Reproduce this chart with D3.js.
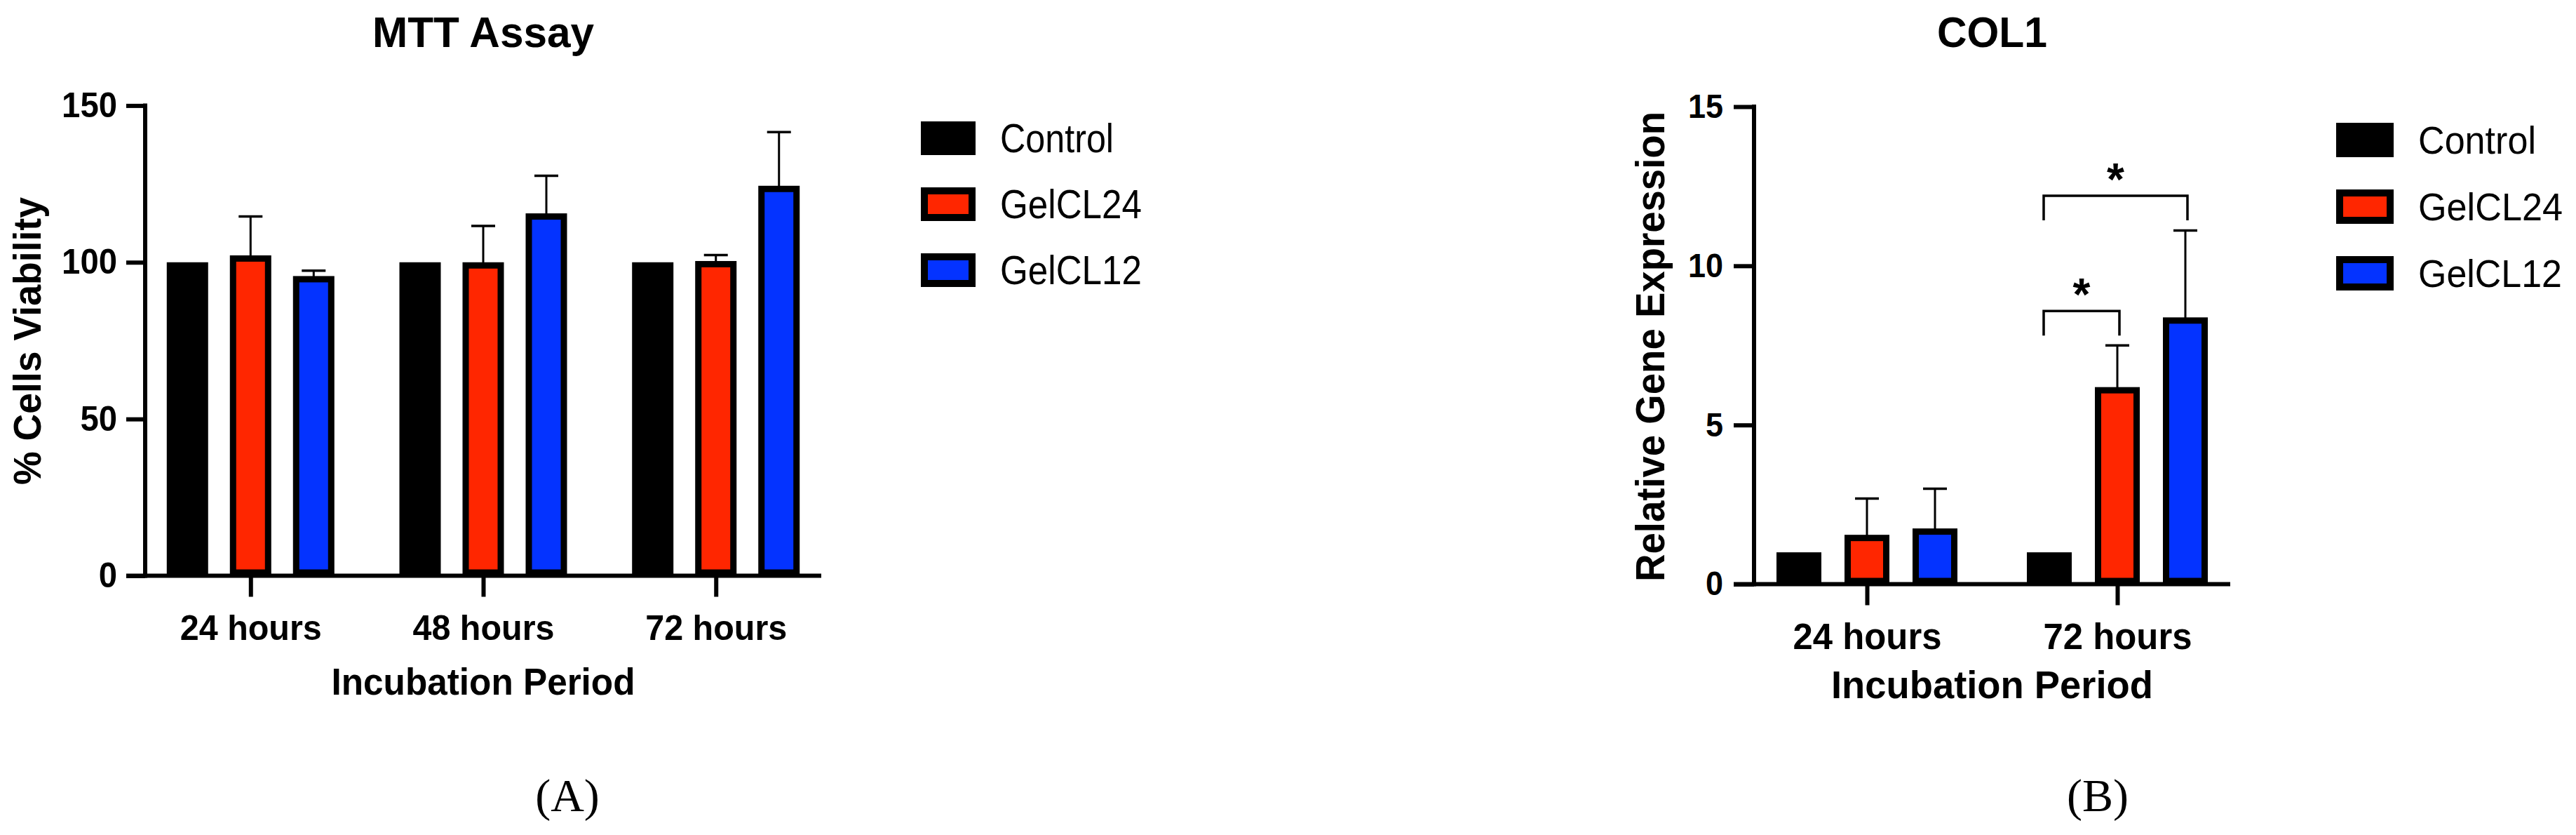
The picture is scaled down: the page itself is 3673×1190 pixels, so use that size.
<!DOCTYPE html>
<html>
<head>
<meta charset="utf-8">
<script src="https://cdn.jsdelivr.net/npm/d3@7"></script>
<style>
  html, body { margin: 0; padding: 0; background: #fff; }
  svg { display: block; }
</style>
</head>
<body>
<svg id="chart" width="3673" height="1190"></svg>
<script>
// ---------------- DATA ----------------
const seriesNames = ["Control", "GelCL24", "GelCL12"];
const seriesColors = ["#000000", "#FF2600", "#0433FF"];

// Panel A: MTT Assay (% cells viability)
const mttGroups = ["24 hours", "48 hours", "72 hours"];
const mttControl = [100, 100, 100];
const mttGelCL24 = [102.2, 100.0, 100.4];
const mttGelCL12 = [95.6, 115.6, 124.4];
const mttErrControl = [0, 0, 0];
const mttErrGelCL24 = [12.4, 11.6, 1.9];
const mttErrGelCL12 = [1.7, 12.0, 17.1];
const mttTicks = [0, 50, 100, 150];

// Panel B: COL1 relative gene expression
const colGroups = ["24 hours", "72 hours"];
const colControl = [1, 1];
const colGelCL24 = [1.55, 6.19];
const colGelCL12 = [1.75, 8.38];
const colErrControl = [0, 0];
const colErrGelCL24 = [1.14, 1.31];
const colErrGelCL12 = [1.25, 2.73];
const colTicks = [0, 5, 10, 15];
// significance brackets
const colSigGroups = ["72 hours", "72 hours"];
const colSigFrom = ["Control", "Control"];
const colSigTo = ["GelCL24", "GelCL12"];
const colSigLevel = [8.58, 12.2];
const colSigLegEnd = [7.81, 11.43];
const colSigLabel = ["*", "*"];

// ---------------- DRAWING ----------------
const svg = d3.select("#chart");
const SANS = "'Liberation Sans', Arial, Helvetica, sans-serif";
const SERIF = "'Liberation Serif', 'Times New Roman', Times, serif";
const BAR_STROKE = 9;

function drawPanel(o) {
  const g = svg.append("g");
  const x0 = d3.scalePoint().domain(o.groups).range([o.axisX, o.axisRight]).padding(o.groupPad);
  const x1 = d3.scaleBand().domain(seriesNames)
    .range([-1.5 * o.barStep, 1.5 * o.barStep])
    .paddingInner(1 - o.barW / o.barStep).paddingOuter((1 - o.barW / o.barStep) / 2);
  const y = d3.scaleLinear().domain([0, o.yMax]).range([o.y0, o.yTop]);

  const rows = [];
  o.groups.forEach((grp, gi) => {
    seriesNames.forEach((s, si) => {
      rows.push({ grp, s, si, v: o.values[si][gi], e: o.errors[si][gi] });
    });
  });

  // bars (border drawn inside the bar)
  g.selectAll("rect.bar").data(rows).join("rect")
    .attr("class", "bar")
    .attr("x", d => x0(d.grp) + x1(d.s) + BAR_STROKE / 2)
    .attr("y", d => y(d.v) + BAR_STROKE / 2)
    .attr("width", x1.bandwidth() - BAR_STROKE)
    .attr("height", d => Math.max(0, y(0) - y(d.v) - BAR_STROKE))
    .attr("fill", d => seriesColors[d.si])
    .attr("stroke", "#000")
    .attr("stroke-width", BAR_STROKE);

  // error bars (upper only)
  const eb = rows.filter(d => d.e > 0);
  g.selectAll("line.err").data(eb).join("line")
    .attr("x1", d => x0(d.grp) + x1(d.s) + x1.bandwidth() / 2)
    .attr("x2", d => x0(d.grp) + x1(d.s) + x1.bandwidth() / 2)
    .attr("y1", d => y(d.v) + 2)
    .attr("y2", d => y(d.v + d.e))
    .attr("stroke", "#000").attr("stroke-width", 3);
  g.selectAll("line.cap").data(eb).join("line")
    .attr("x1", d => x0(d.grp) + x1(d.s) + x1.bandwidth() / 2 - 17)
    .attr("x2", d => x0(d.grp) + x1(d.s) + x1.bandwidth() / 2 + 17)
    .attr("y1", d => y(d.v + d.e))
    .attr("y2", d => y(d.v + d.e))
    .attr("stroke", "#000").attr("stroke-width", 3.5);

  // Y axis
  const yAxis = d3.axisLeft(y).tickValues(o.yTicks).tickSize(o.tickLen).tickSizeOuter(0).tickPadding(o.tickGap);
  const ya = g.append("g").attr("transform", `translate(${o.axisX},0)`).call(yAxis);
  ya.select(".domain").remove();
  ya.selectAll(".tick line").attr("stroke", "#000").attr("stroke-width", 6);
  ya.selectAll(".tick text")
    .attr("font-family", SANS).attr("font-weight", "bold").attr("font-size", o.yTickFont)
    .attr("fill", "#000")
    .attr("textLength", d => String(d).length * o.digitW)
    .attr("lengthAdjust", "spacingAndGlyphs");
  g.append("line")
    .attr("x1", o.axisX).attr("x2", o.axisX)
    .attr("y1", o.yTop - 3).attr("y2", o.y0 + 3)
    .attr("stroke", "#000").attr("stroke-width", 6);

  // X axis
  const xAxis = d3.axisBottom(x0).tickSize(o.xTickLen).tickSizeOuter(0).tickPadding(o.xTickPad);
  const xa = g.append("g").attr("transform", `translate(0,${o.y0})`).call(xAxis);
  xa.select(".domain").remove();
  xa.selectAll(".tick line").attr("stroke", "#000").attr("stroke-width", 6);
  xa.selectAll(".tick text")
    .attr("font-family", SANS).attr("font-weight", "bold").attr("font-size", o.xTickFont)
    .attr("fill", "#000")
    .attr("textLength", o.xTickLen2)
    .attr("lengthAdjust", "spacingAndGlyphs");
  g.append("line")
    .attr("x1", o.axisX - o.tickLen).attr("x2", o.axisRight)
    .attr("y1", o.y0).attr("y2", o.y0)
    .attr("stroke", "#000").attr("stroke-width", 6);

  // title
  g.append("text")
    .attr("x", (o.axisX + o.axisRight) / 2).attr("y", o.titleY)
    .attr("text-anchor", "middle")
    .attr("font-family", SANS).attr("font-weight", "bold").attr("font-size", o.titleFont)
    .attr("textLength", o.titleLen).attr("lengthAdjust", "spacingAndGlyphs")
    .text(o.title);

  // x axis title
  g.append("text")
    .attr("x", (o.axisX + o.axisRight) / 2).attr("y", o.xTitleY)
    .attr("text-anchor", "middle")
    .attr("font-family", SANS).attr("font-weight", "bold").attr("font-size", o.xTitleFont)
    .attr("textLength", o.xTitleLen).attr("lengthAdjust", "spacingAndGlyphs")
    .text("Incubation Period");

  // y axis title
  g.append("text")
    .attr("transform", `translate(${o.yTitleX},${o.yTitleY}) rotate(-90)`)
    .attr("text-anchor", "middle")
    .attr("font-family", SANS).attr("font-weight", "bold").attr("font-size", o.yTitleFont)
    .attr("textLength", o.yTitleLen).attr("lengthAdjust", "spacingAndGlyphs")
    .text(o.yTitle);

  // legend
  const lg = g.append("g");
  seriesNames.forEach((s, i) => {
    const top = o.legTop + i * o.legStep;
    lg.append("rect")
      .attr("x", o.legX + 5).attr("y", top + 5)
      .attr("width", o.legW - 10).attr("height", o.legH - 10)
      .attr("fill", seriesColors[i]).attr("stroke", "#000").attr("stroke-width", 10);
    lg.append("text")
      .attr("x", o.legTextX).attr("y", top + o.legBaseline)
      .attr("font-family", SANS).attr("font-size", o.legFont)
      .attr("textLength", o.legLens[i]).attr("lengthAdjust", "spacingAndGlyphs")
      .text(s);
  });

  // panel label
  g.append("text")
    .attr("x", o.panelX).attr("y", 1156)
    .attr("text-anchor", "middle")
    .attr("font-family", SERIF).attr("font-size", 66)
    .text(o.panelLabel);

  return { g, x0, x1, y };
}

// Panel A
drawPanel({
  groups: mttGroups,
  values: [mttControl, mttGelCL24, mttGelCL12],
  errors: [mttErrControl, mttErrGelCL24, mttErrGelCL12],
  axisX: 207, axisRight: 1171, groupPad: 0.453,
  barStep: 90, barW: 59,
  yMax: 150, y0: 820.5, yTop: 150.4, yTicks: mttTicks,
  tickLen: 27, tickGap: 13, yTickFont: 50, digitW: 26.3,
  xTickLen: 30, xTickPad: 26, xTickFont: 50, xTickLen2: 202,
  title: "MTT Assay", titleY: 67, titleFont: 62, titleLen: 316,
  xTitleY: 990, xTitleFont: 53, xTitleLen: 433,
  yTitle: "% Cells Viability", yTitleX: 58, yTitleY: 486, yTitleFont: 56, yTitleLen: 410,
  legX: 1313, legTop: 173, legStep: 94, legW: 78, legH: 48,
  legTextX: 1426, legBaseline: 44, legFont: 57, legLens: [162, 202, 202],
  panelX: 809, panelLabel: "(A)"
});

// Panel B
const pB = drawPanel({
  groups: colGroups,
  values: [colControl, colGelCL24, colGelCL12],
  errors: [colErrControl, colErrGelCL24, colErrGelCL12],
  axisX: 2501, axisRight: 3180, groupPad: 0.451,
  barStep: 97, barW: 64,
  yMax: 15, y0: 832.5, yTop: 152, yTicks: colTicks,
  tickLen: 29, tickGap: 15, yTickFont: 48, digitW: 25,
  xTickLen: 30, xTickPad: 26, xTickFont: 51, xTickLen2: 212,
  title: "COL1", titleY: 67, titleFont: 62, titleLen: 157,
  xTitleY: 995, xTitleFont: 55, xTitleLen: 459,
  yTitle: "Relative Gene Expression", yTitleX: 2373, yTitleY: 494, yTitleFont: 58, yTitleLen: 670,
  legX: 3331, legTop: 175, legStep: 95, legW: 82, legH: 49,
  legTextX: 3448, legBaseline: 44, legFont: 55, legLens: [168, 206, 205],
  panelX: 2991, panelLabel: "(B)"
});

// significance brackets in panel B
const cx = (grp, s) => pB.x0(grp) + pB.x1(s) + pB.x1.bandwidth() / 2;
colSigGroups.forEach((grp, i) => {
  const xa = cx(grp, colSigFrom[i]) - 8;
  const xb = cx(grp, colSigTo[i]) + 3;
  const yl = pB.y(colSigLevel[i]);
  const ye = pB.y(colSigLegEnd[i]);
  pB.g.append("path")
    .attr("d", `M${xa},${ye}V${yl}H${xb}V${ye}`)
    .attr("fill", "none").attr("stroke", "#000").attr("stroke-width", 3.5);
  pB.g.append("text")
    .attr("x", (xa + xb) / 2).attr("y", yl - 1)
    .attr("text-anchor", "middle")
    .attr("font-family", SANS).attr("font-weight", "bold").attr("font-size", 64)
    .text(colSigLabel[i]);
});
</script>
</body>
</html>
